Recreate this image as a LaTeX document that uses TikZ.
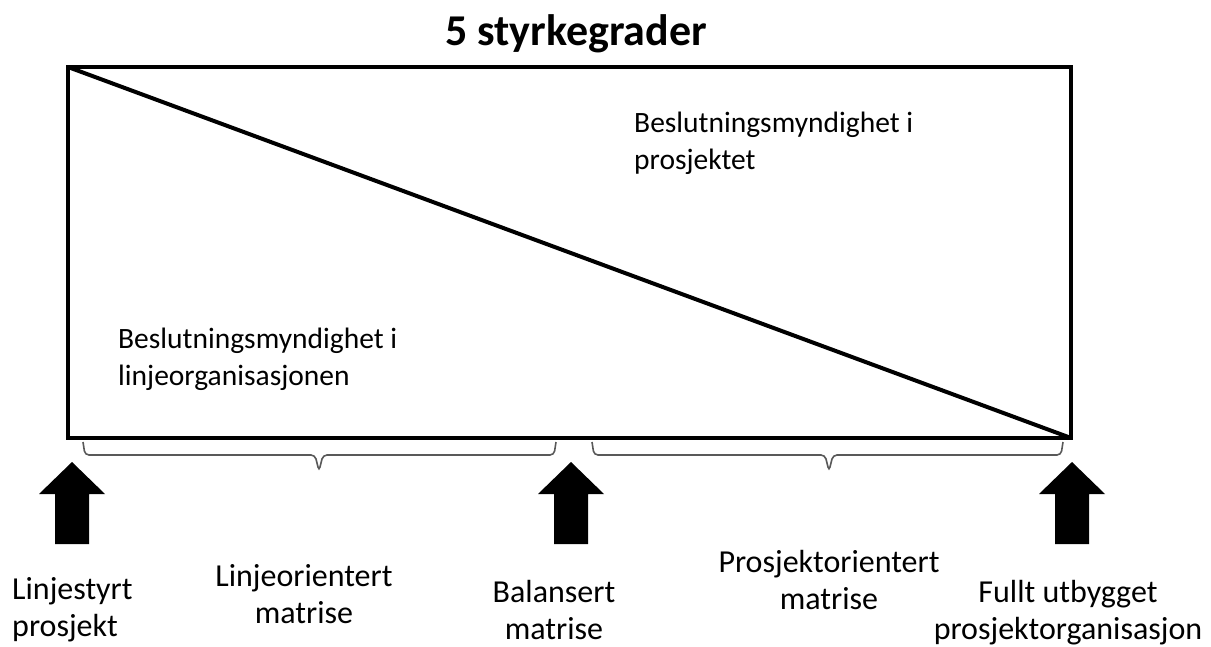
\documentclass[tikz,border=0pt]{standalone}
\usepackage{fontspec}
\setmainfont{Carlito}
\begin{document}
\begin{tikzpicture}[x=1pt,y=-1pt,
  frame/.style={line width=4pt,line join=miter},
  brace/.style={draw=black!65,line width=1.6pt,rounded corners=4pt},
  blockarrow/.style={fill=black},
  areatext/.style={inner sep=0pt,font=\fontsize{29.5}{37}\selectfont,align=left,anchor=west},
  lbl/.style={inner sep=0pt,font=\fontsize{32}{37}\selectfont,align=center},
  lblL/.style={lbl,align=left,anchor=west}]
\useasboundingbox (0,0) rectangle (1211,646);

% title
\node[inner sep=0pt,font=\fontsize{44}{48}\selectfont\bfseries,anchor=base] (title) at (576,45) {5 styrkegrader};

% frame and diagonal
\coordinate (tl) at (68,67);
\coordinate (br) at (1071,438);
\draw[frame] (tl) rectangle (br);
\draw[frame] (tl) -- (br);

% area labels
\node[areatext] (proj) at (634,143) {Beslutningsmyndighet i\\prosjektet};
\node[areatext] (linje) at (118,359) {Beslutningsmyndighet i\\linjeorganisasjonen};

% braces
\draw[brace] (83,442) -- (85,455) -- (315,455) -- (319,471) -- (323,455) -- (554,455) -- (556,442);
\draw[brace] (592,442) -- (594,455) -- (825,455) -- (829,471) -- (833,455) -- (1061,455) -- (1063,442);

% block arrows
\foreach \n/\cx in {a/72,b/571,c/1072}{
  \fill[blockarrow] (\cx,462) -- (\cx+33,494) -- (\cx+17,494) -- (\cx+17,544)
     -- (\cx-17,544) -- (\cx-17,494) -- (\cx-33,494) -- cycle;
}

% stage labels
\node[lblL] (s1) at (12,610) {Linjestyrt\\prosjekt};
\node[lbl] (s2) at (304,594) {Linjeorientert\\matrise};
\node[lbl] (s3) at (554,610) {Balansert\\matrise};
\node[lbl] (s4) at (829,580) {Prosjektorientert\\matrise};
\node[lbl] (s5) at (1068,613) {Fullt utbygget\\prosjektorganisasjon};
\end{tikzpicture}
\end{document}
